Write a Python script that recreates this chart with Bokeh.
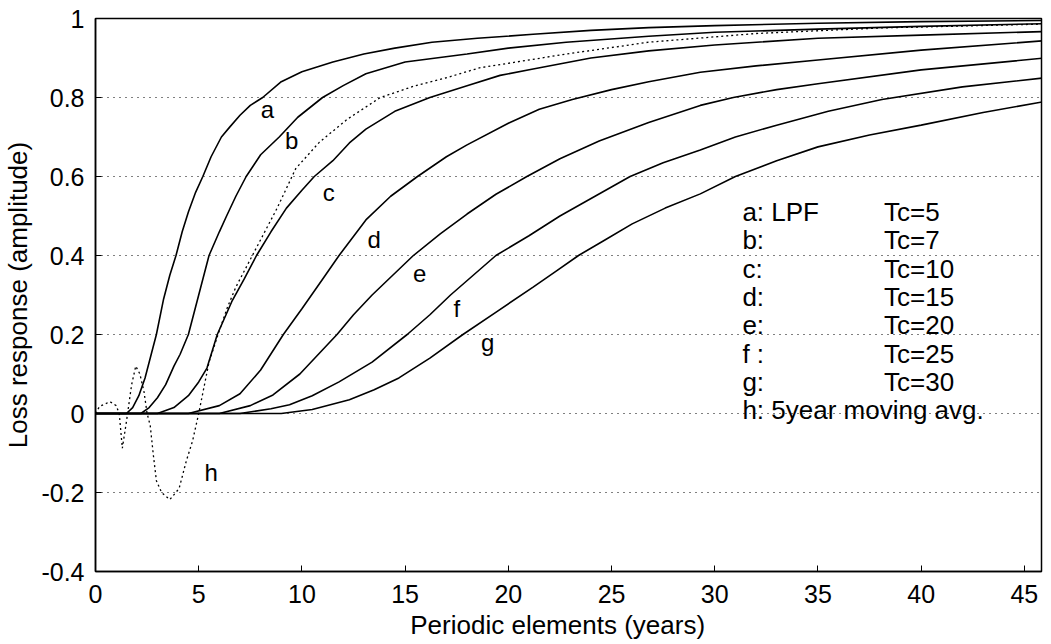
from bokeh.plotting import figure
from bokeh.models import FixedTicker, Range1d
from bokeh.core.properties import value
from bokeh.embed import file_html
from bokeh.resources import INLINE

# ---- data ----
a_x = [0, 1.5, 1.8, 2.1, 2.4, 2.7, 2.95, 3.3, 3.6, 3.9, 4.2, 4.5, 4.85, 5.2, 5.6, 6.1, 6.5, 7.0, 7.5, 8.1,
       9.0, 10, 11.5, 13, 14.5, 16.3, 18.5, 21.2, 24, 26.8, 30, 35, 40, 46]
a_y = [0, 0, 0.015, 0.045, 0.09, 0.15, 0.2, 0.29, 0.35, 0.4, 0.46, 0.51, 0.56, 0.6, 0.65, 0.70, 0.725, 0.755,
       0.78, 0.8, 0.84, 0.865, 0.89, 0.91, 0.925, 0.94, 0.95, 0.96, 0.97, 0.977, 0.982, 0.988, 0.992, 0.995]

b_x = [0, 2.2, 2.6, 3.0, 3.4, 3.8, 4.1, 4.5, 5.0, 5.5, 6.0, 6.35, 6.8, 7.3, 8.0, 8.9, 9.8, 11.0, 12, 13.1,
       15, 18, 20, 22.8, 26.8, 30, 35, 40, 46]
b_y = [0, 0, 0.015, 0.04, 0.073, 0.12, 0.15, 0.2, 0.3, 0.4, 0.46, 0.5, 0.55, 0.6, 0.655, 0.7, 0.75, 0.8, 0.83,
       0.86, 0.89, 0.91, 0.925, 0.94, 0.955, 0.965, 0.973, 0.98, 0.987]

c_x = [0, 3.0, 3.8, 4.5, 5.0, 5.4, 5.9, 6.6, 7.2, 7.8, 8.5, 9.25, 10, 10.6, 11.5, 12.3, 13.1, 14.5, 16.2, 18,
       19.6, 21.2, 24, 26.8, 30, 35, 40, 46]
c_y = [0, 0, 0.015, 0.045, 0.08, 0.115, 0.2, 0.283, 0.34, 0.4, 0.46, 0.52, 0.565, 0.6, 0.64, 0.685, 0.72,
       0.765, 0.8, 0.83, 0.856, 0.872, 0.9, 0.918, 0.933, 0.95, 0.958, 0.967]

d_x = [0, 4.5, 6, 7, 8, 9.1, 10, 11, 11.8, 13.1, 14.3, 15.6, 17, 18, 20, 21.5, 23.1, 25, 26.8, 29.3, 32, 35,
       40, 46]
d_y = [0, 0, 0.02, 0.05, 0.11, 0.2, 0.265, 0.34, 0.4, 0.49, 0.55, 0.6, 0.65, 0.68, 0.735, 0.77, 0.795, 0.82,
       0.84, 0.864, 0.88, 0.895, 0.92, 0.944]

e_x = [0, 6, 7.5, 8.6, 9.9, 10.8, 11.7, 12.5, 13.4, 14.4, 15.4, 16.7, 18, 19.4, 20.9, 22.5, 24.4, 26.8, 29.3,
       30.9, 33, 35, 40, 46]
e_y = [0, 0, 0.02, 0.047, 0.1, 0.15, 0.2, 0.25, 0.3, 0.35, 0.4, 0.455, 0.505, 0.555, 0.6, 0.645, 0.69, 0.737,
       0.78, 0.8, 0.82, 0.835, 0.87, 0.9]

f_x = [0, 7, 8.5, 9.4, 10.5, 11.8, 13.4, 15.1, 16.2, 17.2, 18.3, 19.4, 21, 22.5, 24.2, 25.9, 27.5, 29.3, 31,
       33, 35.5, 38.1, 42, 46]
f_y = [0, 0, 0.012, 0.022, 0.045, 0.08, 0.13, 0.2, 0.25, 0.3, 0.35, 0.4, 0.45, 0.5, 0.55, 0.6, 0.635, 0.667,
       0.7, 0.73, 0.765, 0.795, 0.827, 0.85]

g_x = [0, 9, 10.5, 12.3, 13.5, 14.7, 16.2, 17.8, 19.5, 21.2, 22.3, 23.4, 24.7, 26, 27.6, 29.3, 31, 33, 35,
       37.5, 40, 43, 46]
g_y = [0, 0, 0.01, 0.035, 0.06, 0.09, 0.14, 0.2, 0.26, 0.32, 0.36, 0.4, 0.44, 0.48, 0.52, 0.556, 0.6, 0.64,
       0.675, 0.705, 0.73, 0.762, 0.79]

h_x = [0, 0.2, 0.7, 1.0, 1.15, 1.3, 1.5, 1.75, 1.95, 2.15, 2.35, 2.5, 2.65, 2.8, 2.95, 3.2, 3.6,
       4.05, 4.4, 4.7, 5.0, 5.5, 6.0, 6.4, 6.8, 7.3, 7.6, 8.0, 8.8, 9.7, 10.85, 12.2, 13.8,
       15.5, 17.0, 18.6, 22.8, 26.8, 32, 38, 46]
h_y = [0, 0.018, 0.03, 0.02, 0.0, -0.088, -0.02, 0.073, 0.12, 0.1, 0.055, 0.0, -0.03, -0.104,
       -0.17, -0.2, -0.218, -0.19, -0.12, -0.07, 0.0, 0.13, 0.21, 0.27, 0.32, 0.37, 0.4, 0.44,
       0.52, 0.62, 0.687, 0.745, 0.8, 0.83, 0.85, 0.875, 0.91, 0.94, 0.962, 0.976, 0.986]

curve_names = ["a", "b", "c", "d", "e", "f", "g", "h"]
legend_keys = ["a: LPF", "b:", "c:", "d:", "e:", "f :", "g:", "h: 5year moving avg."]
legend_tc = ["Tc=5", "Tc=7", "Tc=10", "Tc=15", "Tc=20", "Tc=25", "Tc=30"]

x_ticks = [0, 5, 10, 15, 20, 25, 30, 35, 40, 45]
y_ticks = [-0.4, -0.2, 0, 0.2, 0.4, 0.6, 0.8, 1]
y_tick_labels = {-0.4: "-0.4", -0.2: "-0.2", 0: "0", 0.2: "0.2", 0.4: "0.4", 0.6: "0.6", 0.8: "0.8", 1: "1"}

FONT = "Liberation Sans"

p = figure(frame_width=946, frame_height=553, output_backend="svg", toolbar_location=None,
           x_range=Range1d(0, 45.83), y_range=Range1d(-0.4, 1.0),
           min_border_left=94, min_border_top=18, min_border_right=6, min_border_bottom=60)
p.background_fill_color = "white"
p.border_fill_color = "white"
p.outline_line_color = "black"
p.outline_line_width = 1.5

p.xaxis.ticker = FixedTicker(ticks=x_ticks)
p.yaxis.ticker = FixedTicker(ticks=y_ticks)
p.yaxis.major_label_overrides = dict(y_tick_labels)
for ax in (p.xaxis[0], p.yaxis[0]):
    ax.major_tick_in = 6
    ax.major_tick_out = 0
    ax.minor_tick_line_color = None
    ax.axis_line_color = "black"
    ax.axis_line_width = 1.5
    ax.major_label_text_font = FONT
    ax.major_label_text_font_size = "25px"
    ax.major_label_text_color = "black"
    ax.axis_label_text_font = FONT
    ax.axis_label_text_font_style = "normal"
    ax.axis_label_text_color = "black"
p.xaxis.axis_label_text_font_size = "26px"
p.yaxis.axis_label_text_font_size = "26px"
p.xaxis.major_label_standoff = 13
p.yaxis.major_label_standoff = 11
p.xaxis.axis_label = "Periodic  elements   (years)"
p.yaxis.axis_label = "Loss response (amplitude)"
p.xaxis.axis_label_standoff = 4
p.yaxis.axis_label_standoff = 5

p.xgrid.grid_line_color = None
p.ygrid.grid_line_color = "black"
p.ygrid.grid_line_dash = "1 5"
p.ygrid.grid_line_width = 1

solid = [(a_x, a_y), (b_x, b_y), (c_x, c_y), (d_x, d_y), (e_x, e_y), (f_x, f_y), (g_x, g_y)]
for xs, ys in solid:
    p.line(xs, ys, line_color="black", line_width=1.6)
p.line(h_x, h_y, line_color="black", line_width=1.3, line_dash="2 3")

lab_x = [8.33, 9.5, 11.3, 13.5, 15.7, 17.5, 19.0, 5.6]
lab_y = [0.77, 0.69, 0.56, 0.44, 0.354, 0.265, 0.18, -0.15]
p.text(x=lab_x, y=lab_y, text=curve_names, text_font=value(FONT), text_font_size="24px",
       text_align="center", text_baseline="middle", text_color="black")

row0 = 0.51
step = 0.0717
leg_y = [row0 - i * step for i in range(len(legend_keys))]
p.text(x=[31.34] * len(legend_keys), y=leg_y, text=legend_keys, text_font=value(FONT),
       text_font_size="26px", text_align="left", text_baseline="middle", text_color="black")
p.text(x=[38.2] * len(legend_tc), y=leg_y[:len(legend_tc)], text=legend_tc, text_font=value(FONT),
       text_font_size="26px", text_align="left", text_baseline="middle", text_color="black")

open("out.html", "w").write(file_html(p, INLINE))
